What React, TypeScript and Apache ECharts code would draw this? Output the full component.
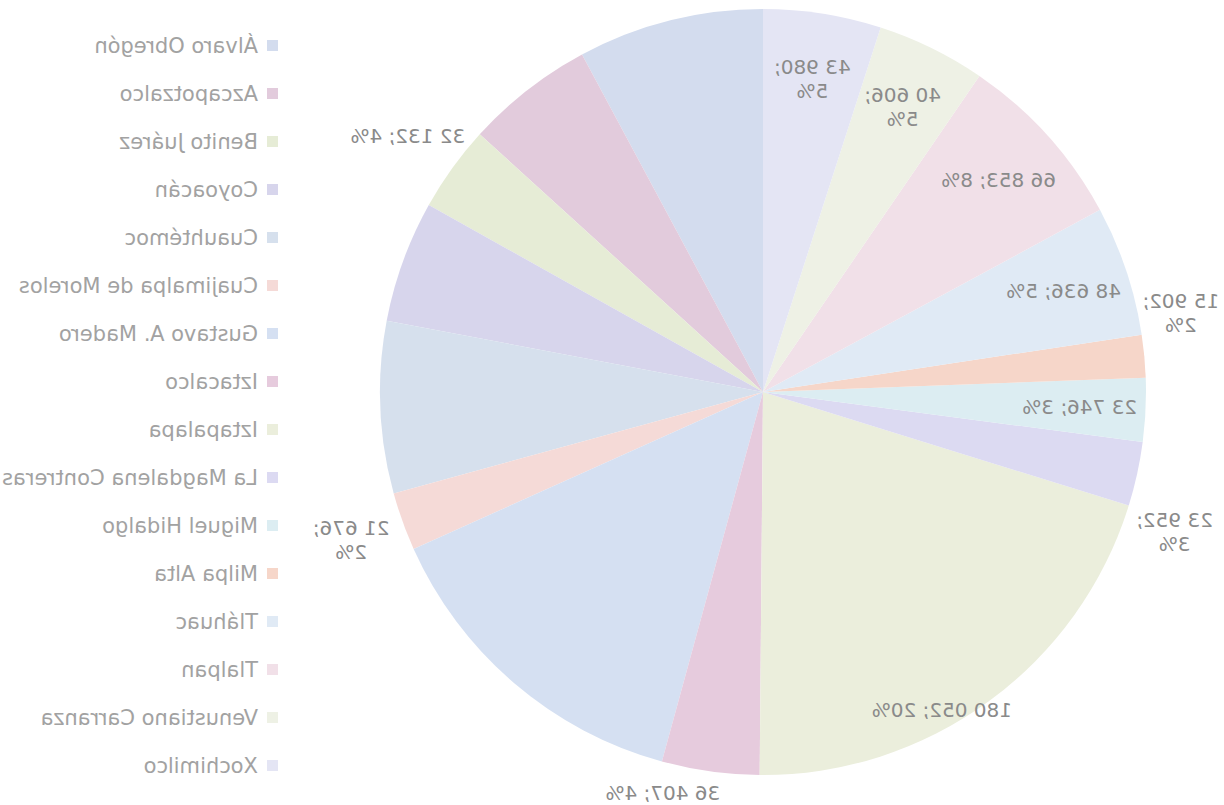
import { useEffect, useRef } from "react";
import * as echarts from "echarts";

// Alcaldías of Mexico City, in legend / slice order (clockwise from 12 o'clock)
const districts = [
  "Álvaro Obregón",
  "Azcapotzalco",
  "Benito Juárez",
  "Coyoacán",
  "Cuauhtémoc",
  "Cuajimalpa de Morelos",
  "Gustavo A. Madero",
  "Iztacalco",
  "Iztapalapa",
  "La Magdalena Contreras",
  "Miguel Hidalgo",
  "Milpa Alta",
  "Tláhuac",
  "Tlalpan",
  "Venustiano Carranza",
  "Xochimilco",
];

const counts = [
  69327, 47928, 32132, 45518, 64139, 21676, 124156, 36407, 180052, 23952, 23746,
  15902, 48636, 66853, 40606, 43980,
];

const sliceColors = [
  "#d3dcee",
  "#e2cbdc",
  "#e6ecd6",
  "#d7d5ec",
  "#d6e0ed",
  "#f5dad7",
  "#d5e0f2",
  "#e6cbdd",
  "#ebeedc",
  "#dcdaf2",
  "#dcedf2",
  "#f6d6c9",
  "#e0eaf5",
  "#f1e0e8",
  "#eef1e5",
  "#e4e5f4",
];

// label placement: which slices carry their label outside the pie
const outsideLabels = [
  "Benito Juárez",
  "Cuajimalpa de Morelos",
  "Iztacalco",
  "La Magdalena Contreras",
  "Milpa Alta",
];
// slices whose label is not drawn
const unlabeled = [
  "Álvaro Obregón",
  "Azcapotzalco",
  "Coyoacán",
  "Cuauhtémoc",
  "Gustavo A. Madero",
];
// labels that wrap the percentage onto a second line
const twoLineLabels = [
  "Xochimilco",
  "Venustiano Carranza",
  "Milpa Alta",
  "La Magdalena Contreras",
  "Cuajimalpa de Morelos",
];
// small best-fit offsets for a few labels
const labelNudge: Record<string, [number, number]> = {
  Iztapalapa: [8, 62],
  Iztacalco: [40, -33],
  "La Magdalena Contreras": [16, 46],
  "Milpa Alta": [18, -38],
};

const total = counts.reduce((a, b) => a + b, 0);

const fmtThousands = (v: number) =>
  String(v).replace(/\B(?=(\d{3})+(?!\d))/g, " ");

const labelText = (i: number) => {
  const name = districts[i];
  const pct = Math.round((counts[i] / total) * 100);
  const sep = twoLineLabels.includes(name) ? "\n" : " ";
  return `${fmtThousands(counts[i])};${sep}${pct}%`;
};

const CENTER: [number, number] = [461, 392];
const R = 383;
const FONT = "DejaVu Sans";

const labelSeries = (
  name: string,
  radius: [number, number],
  pick: (n: string) => boolean
) => ({
  type: "pie",
  name,
  center: CENTER,
  radius,
  startAngle: 90,
  clockwise: true,
  silent: true,
  avoidLabelOverlap: false,
  itemStyle: { color: "rgba(0,0,0,0)", borderWidth: 0 },
  emphasis: { disabled: true },
  labelLine: { show: false },
  labelLayout: (p: any) => {
    const n = labelNudge[districts[p.dataIndex]];
    return n ? { dx: n[0], dy: n[1] } : {};
  },
  data: districts.map((d, i) => ({
    name: d,
    value: counts[i],
    label: {
      show: pick(d) && !unlabeled.includes(d),
      position: "inside",
      formatter: () => labelText(i),
      fontFamily: FONT,
      fontSize: 20,
      lineHeight: 24,
      color: "#8a8a8a",
    },
  })),
});

export default function App() {
  const ref = useRef<HTMLDivElement>(null);

  useEffect(() => {
    if (!ref.current) return;
    const chart = echarts.init(ref.current, null, { renderer: "svg" });
    chart.setOption({
      animation: false,
      backgroundColor: "#ffffff",
      legend: {
        orient: "vertical",
        left: 941,
        top: 30,
        itemWidth: 11,
        itemHeight: 11,
        itemGap: 27,
        icon: "rect",
        selectedMode: false,
        data: districts,
        textStyle: {
          fontFamily: FONT,
          fontSize: 21,
          lineHeight: 20,
          color: "#a2a2a2",
          padding: [0, 0, 0, 4],
        },
      },
      series: [
        {
          type: "pie",
          name: "Alcaldías",
          center: CENTER,
          radius: R,
          startAngle: 90,
          clockwise: true,
          label: { show: false },
          labelLine: { show: false },
          emphasis: { disabled: true },
          data: districts.map((d, i) => ({
            name: d,
            value: counts[i],
            itemStyle: { color: sliceColors[i] },
          })),
        },
        labelSeries("inner", [R * 0.64, R * 1.0], (n) => !outsideLabels.includes(n)),
        labelSeries("outer", [R * 1.03, R * 1.24], (n) => outsideLabels.includes(n)),
      ],
    });
    return () => chart.dispose();
  }, []);

  return (
    <div
      ref={ref}
      style={{
        position: "absolute",
        left: 0,
        top: 0,
        width: 1224,
        height: 805,
        transform: "scaleX(-1)",
        background: "#ffffff",
      }}
    />
  );
}
